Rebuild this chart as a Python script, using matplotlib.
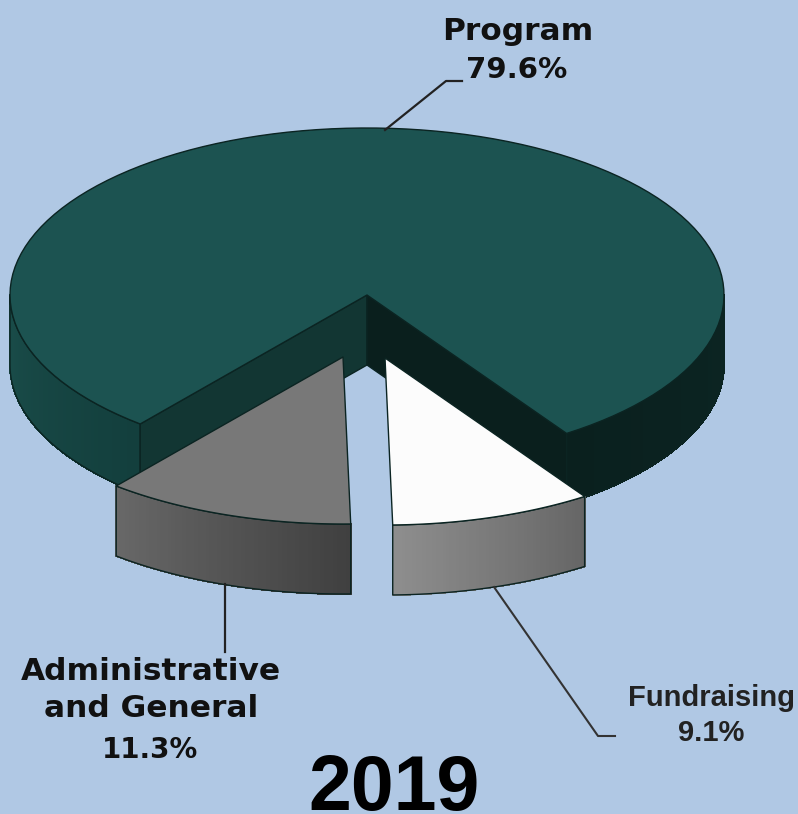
import numpy as np
import matplotlib
matplotlib.use("Agg")
import matplotlib.pyplot as plt
from matplotlib.collections import PolyCollection
from matplotlib.colors import to_rgb
from matplotlib.patches import Polygon

categories = ["Program", "Administrative\nand General", "Fundraising"]
shares = [79.6, 11.3, 9.1]
year = "2019"

BG = "#b0c8e4"
EDGE = "#0b2422"

# pie geometry in image pixels
cx, cy = 367, 295
rx, ry = 357, 167
depth = 70
first_slice_start = 304.0  # program starts here and runs counter clockwise


def rim(a0, a1, n=120):
    t = np.radians(np.linspace(a0, a1, n))
    return np.column_stack([rx * np.cos(t), -ry * np.sin(t)])


def top_face(a0, a1, off, color):
    pts = np.vstack([[0, 0], rim(a0, a1)]) + [cx + off[0], cy + off[1]]
    ax.add_patch(Polygon(pts, closed=True, fc=color, ec=EDGE, lw=1.0, joinstyle="round"))


def side_face(a0, a1, off, c0, c1):
    # outer wall, split in strips so it can carry a gradient
    pts = rim(a0, a1, 61) + [cx + off[0], cy + off[1]]
    polys = []
    cols = []
    c0, c1 = np.array(to_rgb(c0)), np.array(to_rgb(c1))
    for i in range(len(pts) - 1):
        a, b = pts[i], pts[i + 1]
        polys.append([a, b, b + [0, depth], a + [0, depth]])
        cols.append(c0 + (c1 - c0) * i / (len(pts) - 2))
    # no antialiasing here, otherwise the strip joints show as stripes
    ax.add_collection(PolyCollection(polys, facecolors=cols, edgecolors=cols,
                                     linewidths=0.6, antialiaseds=False))
    outline = np.vstack([pts, pts[::-1] + [0, depth]])
    ax.add_patch(Polygon(outline, closed=True, fc="none", ec=EDGE, lw=1.0))


def cut_face(angle, color):
    edge = rim(angle, angle, 1)[0] + [cx, cy]
    pts = [[cx, cy], edge, edge + [0, depth], [cx, cy + depth]]
    ax.add_patch(Polygon(pts, closed=True, fc=color, ec=EDGE, lw=1.0))


fig = plt.figure(figsize=(7.98, 8.14), dpi=100, facecolor=BG)
ax = fig.add_axes([0, 0, 1, 1])
ax.set_xlim(0, 798)
ax.set_ylim(814, 0)
ax.axis("off")

sweeps = [s * 3.6 for s in shares]
prog_start = first_slice_start
prog_end = prog_start + sweeps[0] - 360  # wraps past 0 degrees
admin_end = prog_end + sweeps[1]
fund_end = admin_end + sweeps[2]

# program slice: visible walls first, then the two cut faces, then the top
side_face(180, prog_end, (0, 0), "#1a4d4a", "#133f3d")
side_face(prog_start, 360, (0, 0), "#0a201e", "#0c2523")
cut_face(prog_end, "#123633")
cut_face(prog_start, "#0a1f1d")
top_face(prog_start, prog_end + 360, (0, 0), "#1c5351")

# exploded slices
admin_off = (-24, 62)
fund_off = (18, 63)
side_face(prog_end, admin_end, admin_off, "#686868", "#404040")
top_face(prog_end, admin_end, admin_off, "#787878")
side_face(admin_end, fund_end, fund_off, "#8e8e8e", "#666666")
top_face(admin_end, fund_end, fund_off, "#fcfcfc")

# leader lines
ax.plot([385, 446, 462], [130, 81, 81], color="#222222", lw=1.6)
ax.plot([225, 225], [584, 652], color="#222222", lw=1.6)
ax.plot([494, 598, 615], [587, 736, 736], color="#333333", lw=1.5)

# labels
big = dict(family="DejaVu Sans", fontweight="bold", ha="center", va="center", color="#111111")
ax.text(518, 31, categories[0], fontsize=22.5, **big)
ax.text(517, 70, f"{shares[0]}%", fontsize=21, **big)
ax.text(151, 690, categories[1], fontsize=22.5, linespacing=1.37, **big)
ax.text(150, 750, f"{shares[1]}%", fontsize=20, **big)

small = dict(family="Liberation Sans", fontweight="bold", ha="center", va="center", color="#222222")
ax.text(711, 698, categories[2], fontsize=21, **small)
ax.text(711, 733, f"{shares[2]}%", fontsize=21, **small)

ax.text(394, 810, year, family="Liberation Sans", fontweight="bold", fontsize=55.5,
        ha="center", va="baseline", color="black")

fig.savefig("out.png", dpi=100, facecolor=BG)
